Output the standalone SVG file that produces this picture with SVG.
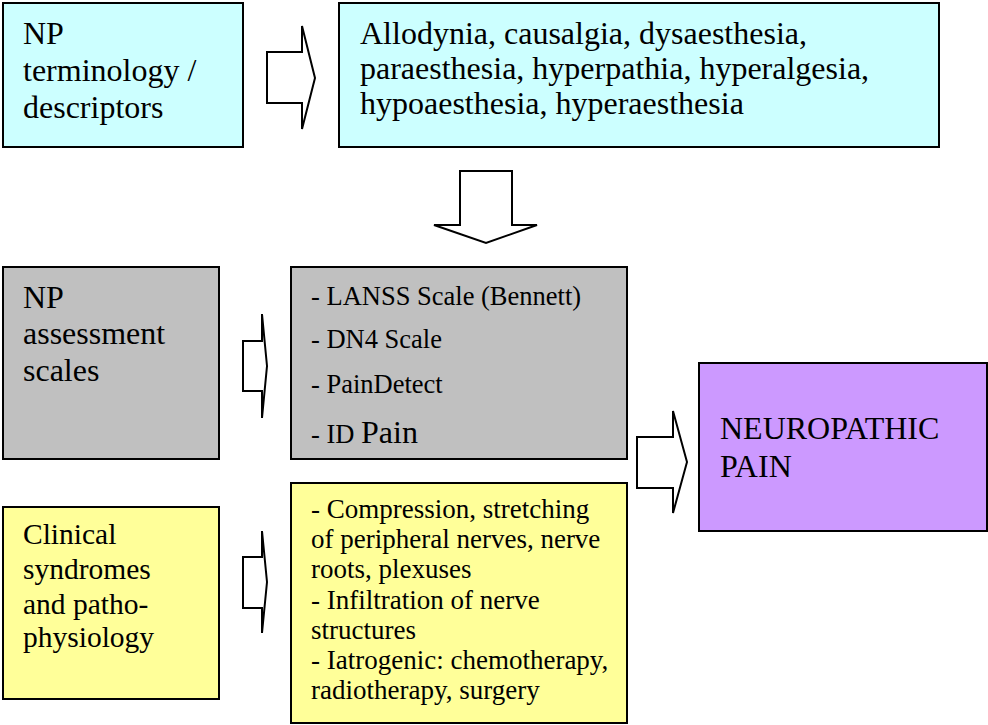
<svg xmlns="http://www.w3.org/2000/svg" width="988" height="725" viewBox="0 0 988 725">
<style>
.box{stroke:#000;stroke-width:2}
.arr{fill:#fff;stroke:#000;stroke-width:2;stroke-linejoin:miter}
.t{font-family:"Liberation Serif","Times New Roman",serif;fill:#000}
</style>
<rect width="988" height="725" fill="#fff"/>
<g id="terminology">
<rect class="box" x="3" y="3" width="240" height="144" fill="#CCFFFF"/>
<text class="t" font-size="32" x="23" y="44">NP</text>
<text class="t" font-size="32" x="23" y="81">terminology /</text>
<text class="t" font-size="32" x="23" y="118">descriptors</text>
</g>
<g id="descriptors">
<rect class="box" x="339" y="3" width="600" height="144" fill="#CCFFFF"/>
<text class="t" font-size="32" x="360" y="44">Allodynia, causalgia, dysaesthesia,</text>
<text class="t" font-size="32" x="360" y="79">paraesthesia, hyperpathia, hyperalgesia,</text>
<text class="t" font-size="32" x="360" y="114">hypoaesthesia, hyperaesthesia</text>
</g>
<g id="assessment">
<rect class="box" x="3" y="267" width="216" height="192" fill="#C0C0C0"/>
<text class="t" font-size="32" x="23" y="308">NP</text>
<text class="t" font-size="32" x="23" y="344">assessment</text>
<text class="t" font-size="32" x="23" y="381">scales</text>
</g>
<g id="scales">
<rect class="box" x="291" y="267" width="336" height="192" fill="#C0C0C0"/>
<text class="t" font-size="26.5" x="311" y="305">- LANSS Scale (Bennett)</text>
<text class="t" font-size="26.5" x="311" y="348">- DN4 Scale</text>
<text class="t" font-size="26.5" x="311" y="393">- PainDetect</text>
<text class="t" font-size="26.5" x="311" y="443">- ID <tspan font-size="32">Pain</tspan></text>
</g>
<g id="neuropathic">
<rect class="box" x="699" y="363" width="288" height="168" fill="#CC99FF"/>
<text class="t" font-size="32" x="720" y="439">NEUROPATHIC</text>
<text class="t" font-size="32" x="720" y="477">PAIN</text>
</g>
<g id="clinical">
<rect class="box" x="3" y="507" width="216" height="192" fill="#FFFF99"/>
<text class="t" font-size="29.5" x="23" y="544">Clinical</text>
<text class="t" font-size="29.5" x="23" y="579">syndromes</text>
<text class="t" font-size="29.5" x="23" y="614">and patho-</text>
<text class="t" font-size="29.5" x="23" y="647">physiology</text>
</g>
<g id="pathophysiology">
<rect class="box" x="291" y="483" width="336" height="240" fill="#FFFF99"/>
<text class="t" font-size="27" x="311" y="518">- Compression, stretching</text>
<text class="t" font-size="27" x="311" y="548">of peripheral nerves, nerve</text>
<text class="t" font-size="27" x="311" y="578">roots, plexuses</text>
<text class="t" font-size="27" x="311" y="609">- Infiltration of nerve</text>
<text class="t" font-size="27" x="311" y="639">structures</text>
<text class="t" font-size="27" x="311" y="669">- Iatrogenic: chemotherapy,</text>
<text class="t" font-size="27" x="311" y="699">radiotherapy, surgery</text>
</g>
<g id="connectors">
<polygon class="arr" points="267,52 302,52 302,26 315,78 302,129 302,103 267,103"/>
<polygon class="arr" points="460,171 512,171 512,225 537,225 486,243 434,225 460,225"/>
<polygon class="arr" points="243,341 262,341 262,314 267,366 262,418 262,391 243,391"/>
<polygon class="arr" points="243,557 262,557 262,531 267,582 262,633 262,608 243,608"/>
<polygon class="arr" points="637,437 673,437 673,411 687,462 673,513 673,488 637,488"/>
</g>
</svg>
